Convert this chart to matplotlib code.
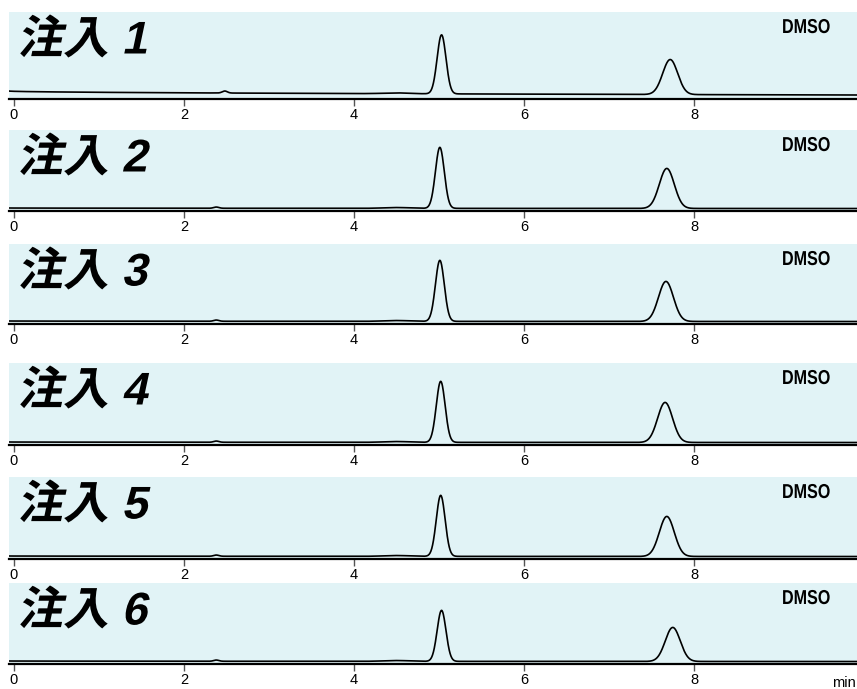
import numpy as np
import matplotlib
matplotlib.use("Agg")
import matplotlib.pyplot as plt
from matplotlib.patheffects import AbstractPathEffect
from matplotlib.transforms import Affine2D

# ---- data ----
panel_labels = ["注入 1", "注入 2", "注入 3", "注入 4", "注入 5", "注入 6"]
solvent_label = "DMSO"
x_ticks = [0, 2, 4, 6, 8]
x_tick_labels = ["0", "2", "4", "6", "8"]
x_unit = "min"

# peak 1 / peak 2 retention times (min)
rt_peak1 = [5.03, 5.01, 5.01, 5.02, 5.02, 5.03]
rt_peak2 = [7.72, 7.68, 7.67, 7.66, 7.68, 7.75]
# peak heights above baseline (mAU)
h_peak1 = [59, 61, 61, 61, 61, 51]
h_peak2 = [35, 40, 40, 40, 40, 34]
# peak widths (sigma, min)
w_peak1 = [0.052, 0.052, 0.052, 0.052, 0.052, 0.052]
w_peak2 = [0.088, 0.088, 0.088, 0.088, 0.088, 0.088]
# small early peak
rt_small = [2.48, 2.38, 2.38, 2.38, 2.38, 2.38]
h_small = [2.0, 1.2, 1.2, 1.2, 1.2, 1.2]
# baseline level at start and end of run (mAU)
base_start = [8.0, 3.0, 3.0, 3.0, 3.0, 3.0]
base_end = [4.0, 2.5, 2.5, 2.5, 2.5, 2.5]
# panel y-range (mAU)
y_top = [87, 81, 80, 82, 82, 81]


class Warp(AbstractPathEffect):
    """Draw text path with an extra affine (skew / horizontal squeeze)."""
    def __init__(self, skew_deg=0.0, sx=1.0):
        super().__init__()
        self._pre = Affine2D().skew_deg(skew_deg, 0).scale(sx, 1.0)

    def draw_path(self, renderer, gc, tpath, affine, rgbFace=None):
        renderer.draw_path(gc, tpath, self._pre + affine, rgbFace)


# ---- layout ----
W, H = 857, 689
fig = plt.figure(figsize=(W / 100, H / 100), dpi=100)
panel_top_px = [12, 130, 244, 363, 477, 583]
panel_bot_px = [99, 211, 324, 445, 559, 664]
x0_px, x1_px = 9, 857
xmin = (9 - 14) / 85.0
xmax = (857 - 14) / 85.0

bg = "#e1f3f6"
t = np.linspace(xmin, xmax, 3000)

def gauss(t, mu, h, s):
    return h * np.exp(-0.5 * ((t - mu) / s) ** 2)

PX = 0.72  # points per pixel at dpi 100

for i in range(6):
    top, bot = panel_top_px[i], panel_bot_px[i]
    ax = fig.add_axes([x0_px / W, 1 - bot / H, (x1_px - x0_px) / W, (bot - top) / H])
    ax.set_facecolor(bg)
    frac = (t - xmin) / (xmax - xmin)
    base = base_start[i] + (base_end[i] - base_start[i]) * np.sqrt(frac)
    y = (base
         + gauss(t, rt_small[i], h_small[i], 0.03)
         + gauss(t, 4.5, 0.8, 0.15)
         + gauss(t, rt_peak1[i], h_peak1[i], w_peak1[i])
         + gauss(t, rt_peak2[i], h_peak2[i], w_peak2[i]))
    ax.plot(t, y, color="black", lw=1.2)
    ax.set_xlim(xmin, xmax)
    ax.set_ylim(0, y_top[i])
    for s in ["top", "right", "left"]:
        ax.spines[s].set_visible(False)
    ax.spines["bottom"].set_linewidth(1.6)
    ax.spines["bottom"].set_color("black")
    ax.set_yticks([])
    ax.set_xticks(x_ticks)
    ax.set_xticklabels(x_tick_labels, fontfamily="Liberation Sans", fontsize=10.5)
    ax.tick_params(axis="x", direction="out", length=5, width=1, color="#555555", pad=1.5)

    ax.annotate(panel_labels[i], xy=(0, 1), xycoords="axes fraction",
                xytext=(8 * PX, -29.5 * PX), textcoords="offset points",
                ha="left", va="center", fontsize=33, fontweight="bold",
                family=["Liberation Sans", "Noto Sans CJK JP"],
                path_effects=[Warp(skew_deg=12)])
    ax.annotate(solvent_label, xy=(1, 1), xycoords="axes fraction",
                xytext=(-75 * PX, -6 * PX), textcoords="offset points",
                ha="left", va="top", fontsize=14.5, fontweight="bold",
                family=["Liberation Sans"],
                path_effects=[Warp(sx=0.8)])

fig.text(856 / W, 1 - 687 / H, x_unit, ha="right", va="baseline", fontsize=10.5,
         family="Liberation Sans")

fig.savefig("out.png", dpi=100)
